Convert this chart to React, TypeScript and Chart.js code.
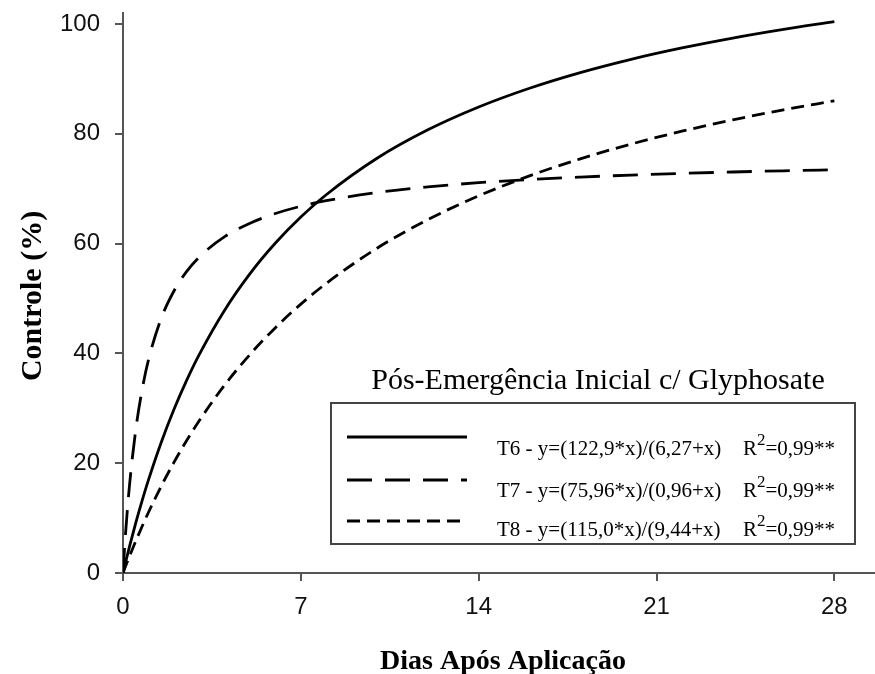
import React, { useEffect, useRef } from "react";
import { Chart, registerables } from "chart.js";

Chart.register(...registerables);

const xDays = [0, 0.1, 0.25, 0.5, 0.75, 1, 1.5, 2, 2.5, 3, 4, 5, 6, 7, 8, 10, 12, 14, 16, 18, 20, 22, 24, 26, 28];
const t6Values = [0, 1.93, 4.71, 9.08, 13.13, 16.91, 23.73, 29.72, 35.03, 39.77, 47.87, 54.53, 60.1, 64.83, 68.9, 75.54, 80.72, 84.88, 88.3, 91.15, 93.57, 95.64, 97.44, 99.02, 100.41];
const t7Values = [0, 7.17, 15.69, 26.01, 33.32, 38.76, 46.32, 51.32, 54.88, 57.55, 61.26, 63.72, 65.48, 66.8, 67.82, 69.31, 70.33, 71.09, 71.66, 72.11, 72.48, 72.78, 73.04, 73.26, 73.44];
const t8Values = [0, 1.21, 2.97, 5.78, 8.46, 11.02, 15.77, 20.1, 24.08, 27.73, 34.23, 39.82, 44.69, 48.97, 52.75, 59.16, 64.37, 68.69, 72.33, 75.44, 78.13, 80.47, 82.54, 84.37, 86.0];

const xTicks = [0, 7, 14, 21, 28];
const yTicks = [0, 20, 40, 60, 80, 100];

const seriesNames = ["T6", "T7", "T8"];
const equations = [
  "T6 - y=(122,9*x)/(6,27+x)",
  "T7 - y=(75,96*x)/(0,96+x)",
  "T8 - y=(115,0*x)/(9,44+x)",
];
const r2Text = "=0,99**";
const legendTitle = "Pós-Emergência Inicial c/ Glyphosate";
const xTitle = "Dias Após Aplicação";
const yTitle = "Controle (%)";

const dashes: number[][] = [[], [25, 13], [13, 7]];

const SERIF = '"Liberation Serif", "Times New Roman", serif';
const SANS = '"Liberation Sans", Arial, sans-serif';

const toPoints = (ys: number[]) => xDays.map((x, i) => ({ x, y: ys[i] }));

const overlayPlugin = {
  id: "overlay",
  afterDraw(chart: any) {
    const ctx = chart.ctx as CanvasRenderingContext2D;
    ctx.save();
    // axis titles
    ctx.fillStyle = "#000";
    ctx.font = `bold 28px ${SERIF}`;
    ctx.textAlign = "center";
    ctx.textBaseline = "alphabetic";
    ctx.fillText(xTitle, 503, 669);
    ctx.save();
    ctx.translate(41, 296);
    ctx.rotate(-Math.PI / 2);
    ctx.font = `bold 30px ${SERIF}`;
    ctx.fillText(yTitle, 0, 0);
    ctx.restore();

    // legend title
    ctx.font = `30px ${SERIF}`;
    ctx.textAlign = "center";
    ctx.fillText(legendTitle, 598, 389);

    // legend box
    ctx.fillStyle = "#fff";
    ctx.fillRect(331, 403, 524, 141);
    ctx.strokeStyle = "#444";
    ctx.lineWidth = 2;
    ctx.strokeRect(331, 403, 524, 141);

    const rowLineY = [437, 480, 521];
    const rowBase = [455, 497, 536];
    for (let i = 0; i < seriesNames.length; i++) {
      ctx.beginPath();
      ctx.strokeStyle = "#000";
      ctx.lineWidth = 3;
      ctx.setLineDash(dashes[i]);
      ctx.moveTo(347, rowLineY[i]);
      ctx.lineTo(467, rowLineY[i]);
      ctx.stroke();
      ctx.setLineDash([]);

      ctx.fillStyle = "#000";
      ctx.textAlign = "left";
      ctx.font = `21px ${SERIF}`;
      ctx.fillText(equations[i], 497, rowBase[i]);
      ctx.fillText("R", 743, rowBase[i]);
      const rw = ctx.measureText("R").width;
      ctx.font = `17px ${SERIF}`;
      ctx.fillText("2", 743 + rw, rowBase[i] - 10);
      const sw = ctx.measureText("2").width;
      ctx.font = `21px ${SERIF}`;
      ctx.fillText(r2Text, 743 + rw + sw, rowBase[i]);
    }
    ctx.restore();
  },
};

export default function App() {
  const ref = useRef<HTMLCanvasElement | null>(null);

  useEffect(() => {
    if (!ref.current) return;
    const mk = (label: string, ys: number[], dash: number[]) => ({
      label,
      data: toPoints(ys),
      borderColor: "#000",
      backgroundColor: "#000",
      borderWidth: 2.8,
      borderDash: dash,
      pointRadius: 0,
      fill: false,
      cubicInterpolationMode: "monotone" as const,
    });
    const chart = new Chart(ref.current, {
      type: "line",
      data: {
        datasets: [
          mk(seriesNames[0], t6Values, dashes[0]),
          mk(seriesNames[1], t7Values, dashes[1]),
          mk(seriesNames[2], t8Values, dashes[2]),
        ],
      },
      options: {
        responsive: false,
        animation: false,
        layout: { padding: { top: 13, right: 0, left: 0, bottom: 0 } },
        plugins: {
          legend: { display: false },
          tooltip: { enabled: false },
          title: { display: false },
        },
        scales: {
          x: {
            type: "linear",
            min: 0,
            max: 29.6,
            afterBuildTicks: (s: any) => {
              s.ticks = xTicks.map((v) => ({ value: v }));
            },
            afterFit: (s: any) => {
              s.height = 101;
              s.paddingLeft = 0;
              s.paddingRight = 0;
            },
            grid: {
              display: true,
              drawOnChartArea: false,
              drawTicks: true,
              tickLength: 8,
              color: "#555",
              lineWidth: 2,
            },
            border: { display: true, color: "#555", width: 2 },
            ticks: {
              color: "#111",
              font: { family: SANS, size: 24 },
              padding: 12,
              maxRotation: 0,
              autoSkip: false,
            },
          },
          y: {
            type: "linear",
            min: 0,
            max: 102,
            afterBuildTicks: (s: any) => {
              s.ticks = yTicks.map((v) => ({ value: v }));
            },
            afterFit: (s: any) => {
              s.width = 123;
              s.paddingTop = 0;
              s.paddingBottom = 0;
            },
            grid: {
              display: true,
              drawOnChartArea: false,
              drawTicks: true,
              tickLength: 8,
              color: "#555",
              lineWidth: 2,
            },
            border: { display: true, color: "#555", width: 2 },
            ticks: {
              color: "#111",
              font: { family: SANS, size: 24 },
              padding: 15,
              autoSkip: false,
            },
          },
        },
      },
      plugins: [overlayPlugin],
    });
    return () => chart.destroy();
  }, []);

  return (
    <div style={{ position: "fixed", left: 0, top: 0, width: 875, height: 674, background: "#fff" }}>
      <canvas ref={ref} width={875} height={674} style={{ width: 875, height: 674 }} />
    </div>
  );
}
